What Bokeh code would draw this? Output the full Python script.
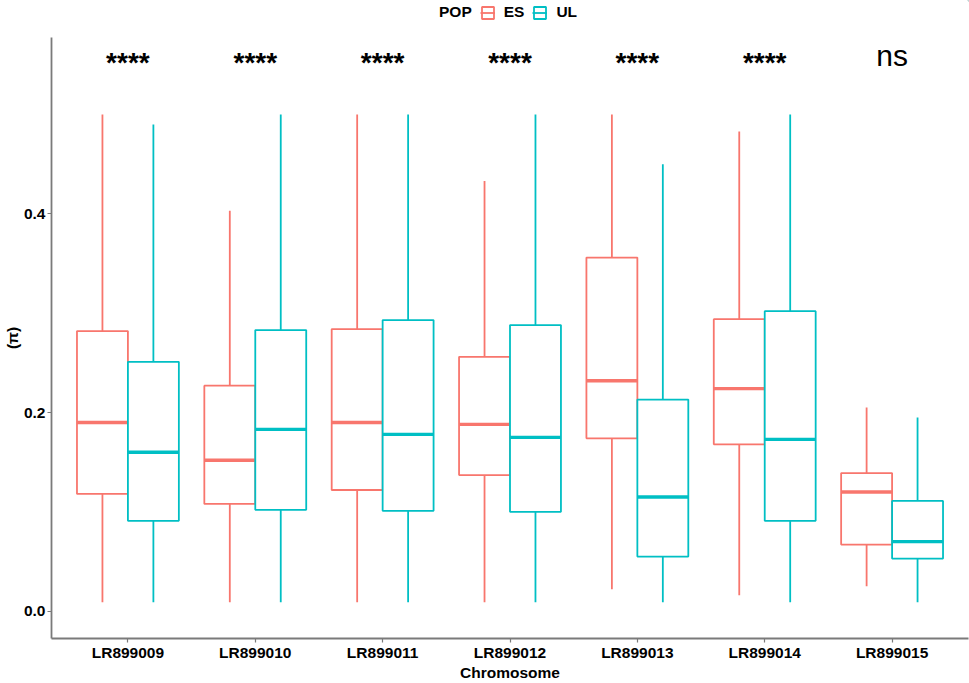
from bokeh.plotting import figure
from bokeh.layouts import column
from bokeh.models import (ColumnDataSource, FactorRange, Legend, LegendItem,
                          FixedTicker, NumeralTickFormatter)
from bokeh.transform import dodge
from bokeh.core.properties import value
from bokeh.embed import file_html
from bokeh.resources import INLINE

chromosomes = ["LR899009", "LR899010", "LR899011", "LR899012",
               "LR899013", "LR899014", "LR899015"]

# ES population
es_max = [0.500, 0.403, 0.500, 0.433, 0.500, 0.483, 0.205]
es_q3  = [0.282, 0.227, 0.284, 0.256, 0.356, 0.294, 0.139]
es_med = [0.190, 0.152, 0.190, 0.188, 0.232, 0.224, 0.120]
es_q1  = [0.118, 0.108, 0.122, 0.137, 0.174, 0.168, 0.067]
es_min = [0.009, 0.009, 0.009, 0.009, 0.022, 0.016, 0.025]

# UL population
ul_max = [0.490, 0.500, 0.500, 0.500, 0.450, 0.500, 0.195]
ul_q3  = [0.251, 0.283, 0.293, 0.288, 0.213, 0.302, 0.111]
ul_med = [0.160, 0.183, 0.178, 0.175, 0.115, 0.173, 0.070]
ul_q1  = [0.091, 0.102, 0.101, 0.100, 0.055, 0.091, 0.053]
ul_min = [0.009, 0.009, 0.009, 0.009, 0.009, 0.009, 0.009]

pops = ["ES", "UL"]
sig_labels = ["****", "****", "****", "****", "****", "****", "ns"]
y_ticks = [0.0, 0.2, 0.4]

ES_COLOR = "#F8766D"
UL_COLOR = "#00BFC4"
FONT = "Liberation Sans"
TXT = "15.5px"

W = 969
LEG_H = 29
MAIN_H = 683 - LEG_H

# ---------------- main plot ----------------
p = figure(width=W, height=MAIN_H, output_backend="svg", toolbar_location=None,
           x_range=FactorRange(factors=chromosomes, range_padding=0.1,
                               range_padding_units="absolute"),
           y_range=(-0.0275, 0.5775),
           min_border_left=50, min_border_right=1, min_border_top=8,
           min_border_bottom=30)
p.outline_line_color = None
p.xgrid.grid_line_color = None
p.ygrid.grid_line_color = None
p.background_fill_color = "white"
p.border_fill_color = "white"

BW = 0.4
for name, color, off, mx, q3, md, q1, mn in [
        (pops[0], ES_COLOR, -0.2, es_max, es_q3, es_med, es_q1, es_min),
        (pops[1], UL_COLOR, 0.2, ul_max, ul_q3, ul_med, ul_q1, ul_min)]:
    src = ColumnDataSource(dict(chrom=chromosomes, mx=mx, q3=q3, md=md, q1=q1, mn=mn))
    xc = dodge("chrom", off, range=p.x_range)
    p.segment(x0=xc, x1=xc, y0="q3", y1="mx", source=src, line_color=color, line_width=1.8)
    p.segment(x0=xc, x1=xc, y0="q1", y1="mn", source=src, line_color=color, line_width=1.8)
    p.vbar(x=xc, width=BW, top="q3", bottom="q1", source=src,
           fill_color="white", line_color=color, line_width=1.8)
    p.segment(x0=dodge("chrom", off - BW / 2, range=p.x_range),
              x1=dodge("chrom", off + BW / 2, range=p.x_range),
              y0="md", y1="md", source=src, line_color=color, line_width=3.4)

# significance labels
star_idx = [i for i, s in enumerate(sig_labels) if s != "ns"]
ns_idx = [i for i, s in enumerate(sig_labels) if s == "ns"]
p.text(x=[chromosomes[i] for i in star_idx], y=[0.552] * len(star_idx),
       text=[sig_labels[i] for i in star_idx], text_align="center",
       text_baseline="alphabetic", text_font=value(FONT), text_font_size="28px",
       text_font_style="bold", text_color="black")
p.text(x=[chromosomes[i] for i in ns_idx], y=[0.559] * len(ns_idx),
       text=[sig_labels[i] for i in ns_idx], text_align="center",
       text_baseline="alphabetic", text_font=value(FONT), text_font_size="30px",
       text_color="black")

for ax in (p.xaxis[0], p.yaxis[0]):
    ax.axis_line_color = "#7a7a7a"
    ax.axis_line_width = 1.8
    ax.major_tick_line_color = "#7a7a7a"
    ax.major_tick_line_width = 1.2
    ax.major_tick_out = 4
    ax.major_tick_in = 0
    ax.minor_tick_line_color = None
    ax.major_label_text_font = FONT
    ax.major_label_text_font_size = TXT
    ax.major_label_text_font_style = "bold"
    ax.major_label_text_color = "black"
    ax.axis_label_text_font = FONT
    ax.axis_label_text_font_size = TXT
    ax.axis_label_text_font_style = "bold"
    ax.axis_label_text_color = "black"

p.xaxis.axis_label = "Chromosome"
p.xaxis.major_label_standoff = 1
p.xaxis.axis_label_standoff = 0
p.yaxis.axis_label = "(π)"
p.yaxis.major_label_standoff = 2
p.yaxis.axis_label_standoff = 0
p.yaxis.ticker = FixedTicker(ticks=y_ticks)
p.yaxis.formatter = NumeralTickFormatter(format="0.0")

# ---------------- legend strip ----------------
lg = figure(width=W, height=LEG_H, output_backend="svg", toolbar_location=None,
            x_range=(0, 1), y_range=(0, 1), x_axis_type=None, y_axis_type=None,
            min_border_left=0, min_border_right=0, min_border_top=0,
            min_border_bottom=0)
lg.outline_line_color = None
lg.xgrid.grid_line_color = None
lg.ygrid.grid_line_color = None

# legend-only renderers, their data lie outside the strip's visible range
items = []
ghost = lg.vbar(x=[5], width=0.1, top=[10], bottom=[9], fill_alpha=0, line_alpha=0)
items.append(LegendItem(label="POP", renderers=[ghost]))
for name, color in zip(pops, [ES_COLOR, UL_COLOR]):
    b = lg.vbar(x=[5], width=0.1, top=[10], bottom=[9], fill_color="white",
                line_color=color, line_width=1.8)
    m = lg.segment(x0=[5], x1=[6], y0=[9], y1=[9], line_color=color, line_width=1.8)
    items.append(LegendItem(label=name, renderers=[b, m]))

legend = Legend(items=items, orientation="horizontal", location=(364, 8))
legend.label_text_font = FONT
legend.label_text_font_size = TXT
legend.label_text_font_style = "bold"
legend.label_text_color = "black"
legend.glyph_width = 15
legend.glyph_height = 15
legend.label_standoff = 9
legend.spacing = 8
legend.padding = 0
legend.margin = 0
legend.border_line_color = None
legend.background_fill_alpha = 0
lg.add_layout(legend, "center")

layout = column(lg, p, spacing=0)
open("out.html", "w").write(file_html(layout, INLINE))
